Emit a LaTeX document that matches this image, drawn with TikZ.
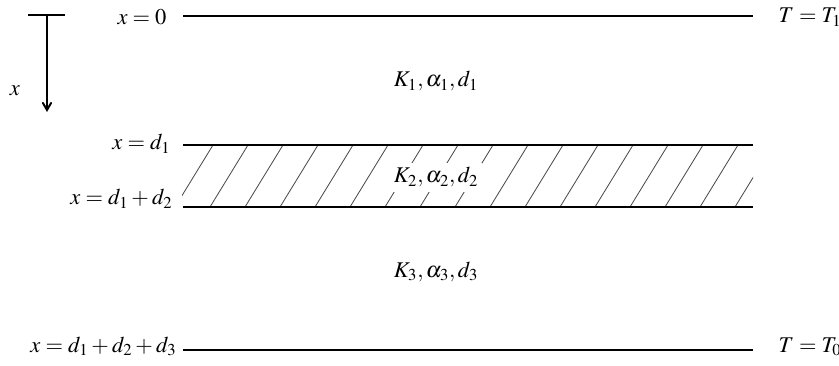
\documentclass[tikz,border=0pt]{standalone}
\usepackage{mathptmx}
\usetikzlibrary{arrows}

\begin{document}
\begin{tikzpicture}[
    x=0.025cm, y=-0.025cm,
    boundary/.style={line width=2pt},
    hatch/.style={line width=0.6pt, black!70},
    lbl/.style={font=\fontsize{16}{19}\selectfont, inner sep=1pt},
    arrow/.style={line width=1.4pt,->,>=angle 60}
]
\useasboundingbox (0,0) rectangle (839,366);

% Depth arrow
\coordinate (bar_l) at (28,15);
\coordinate (bar_r) at (65,15);
\coordinate (arr_top) at (47,15);
\coordinate (arr_tip) at (47,112);
\draw[line width=1.4pt] (bar_l) -- (bar_r);
\draw[arrow] (arr_top) -- (arr_tip);
\node[lbl, anchor=base] (xlabel) at (15,96) {$x$};

% Hatched layer
\begin{scope}
  \clip (182,145) rectangle (753,207);
  \foreach \b in {0,...,16}
    \draw[hatch] (175+35*\b,207) -- (213+35*\b,145);
\end{scope}

% Boundaries
\coordinate (top_l) at (183,16);
\coordinate (top_r) at (753,16);
\coordinate (d1_l) at (183,145);
\coordinate (d1_r) at (753,145);
\coordinate (d2_l) at (183,207);
\coordinate (d2_r) at (753,207);
\coordinate (bot_l) at (183,350);
\coordinate (bot_r) at (753,350);
\draw[boundary] (top_l) -- (top_r);
\draw[boundary] (d1_l) -- (d1_r);
\draw[boundary] (d2_l) -- (d2_r);
\draw[boundary] (bot_l) -- (bot_r);

% Labels
\node[lbl, anchor=base east] (x0) at (168,25) {$x=0$};
\node[lbl, anchor=base east] (xd1) at (172,150) {$x=d_1$};
\node[lbl, anchor=base east] (xd12) at (174,205) {$x=d_1+d_2$};
\node[lbl, anchor=base east] (xd123) at (178,352) {$x=d_1+d_2+d_3$};
\node[lbl, anchor=base west] (T1) at (777,23) {$T=T_1$};
\node[lbl, anchor=base west] (T0) at (777,352) {$T=T_0$};

\node[lbl, anchor=base] (layer1) at (436,87) {$K_1,\alpha_1,d_1$};
\node[lbl, anchor=base, fill=white, inner sep=3pt] (layer2) at (436,183) {$K_2,\alpha_2,d_2$};
\node[lbl, anchor=base] (layer3) at (436,277) {$K_3,\alpha_3,d_3$};

\end{tikzpicture}
\end{document}
